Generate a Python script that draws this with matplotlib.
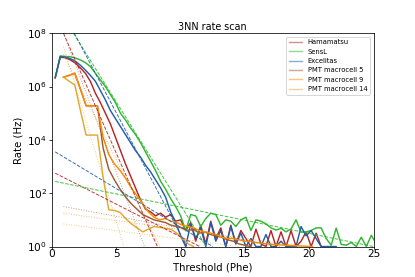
import numpy as np
import matplotlib
matplotlib.use("Agg")
import matplotlib.pyplot as plt

# threshold scan steps (Phe)
thr_sipm = np.arange(0.26, 25.3, 0.39)
thr_pmt = np.arange(0.90, 20.3, 0.44)

# log10(rate / Hz)
ham_log = [6.33, 7.10, 7.08, 7.00, 6.88, 6.70, 6.50, 6.20, 5.75, 5.40,
           5.00, 4.60, 4.10, 3.60, 3.10, 2.65, 2.20, 1.75, 1.40, 1.30,
           1.15, 1.25, 1.10, 1.20, 0.95, 1.00, 0.60, 0.90, 0.20, 0.80,
           0.10, 0.95, 0.30, 0.70, 0.00, 0.80, 0.10, 0.60, 0.30, 0.00,
           0.65, 0.10, 0.00, 0.60, 0.00, 0.55, 0.00, 0.60, 0.00, 0.20,
           0.55, 0.00, 0.50, 0.00]
sensl_log = [6.33, 7.15, 7.13, 7.12, 7.07, 7.00, 6.90, 6.75, 6.50, 6.25,
             6.00, 5.70, 5.40, 5.00, 4.75, 4.45, 4.20, 3.90, 3.55, 3.20,
             2.85, 2.45, 2.15, 1.80, 1.50, 1.15, 0.60, 1.20, 1.15, 0.75,
             1.05, 1.25, 1.20, 0.80, 1.00, 0.95, 0.75, 1.00, 1.10, 0.60,
             1.00, 0.95, 0.85, 0.70, 0.62, 0.68, 0.55, 0.66, 1.00, 0.54,
             0.55, 0.60, 0.70, 0.70, 0.30, 0.05, 0.69, 0.08, 0.05, 0.15,
             0.00, 0.35, 0.00, 0.42, 0.10]
exc_log = [6.33, 7.12, 7.10, 7.05, 6.95, 6.80, 6.62, 6.42, 6.20, 5.85,
           5.50, 5.10, 4.80, 4.50, 4.20, 3.90, 3.60, 3.35, 3.05, 2.80,
           2.50, 2.20, 1.85, 1.30, 0.90, 0.40, 0.00, 0.85, 0.30, 0.70,
           0.00, 0.90, 0.20, 0.60, 0.00, 0.75, 0.10, 0.50, 0.00, 0.30,
           0.00, 0.00, 0.45, 0.00, 0.00, 0.20, 0.00, 0.00, 0.00, 0.75,
           0.40, 0.60, 0.30, 0.00, 0.00, 0.00, 0.00]
pmt5_log = [6.35, 6.42, 6.50, 5.90, 5.28, 5.28, 5.28, 3.70, 2.90, 2.50,
            2.15, 1.85, 1.60, 1.40, 1.20, 1.10, 1.00, 0.95, 0.90, 0.80,
            0.75, 0.70, 0.60, 0.65, 0.50, 0.55, 0.45, 0.40, 0.35, 0.25,
            0.20, 0.10, 0.05, 0.00]
pmt9_log = [6.35, 6.42, 6.50, 5.90, 5.28, 5.28, 5.28, 4.10, 3.45, 3.10,
            2.85, 2.55, 2.20, 1.90, 1.60, 1.30, 1.10, 1.00, 1.05, 0.95,
            0.90, 0.80, 0.75, 0.70, 0.60, 0.55, 0.50, 0.45, 0.35, 0.30,
            0.30, 0.25, 0.20, 0.20, 0.15, 0.12, 0.10, 0.08, 0.06, 0.05,
            0.04, 0.03, 0.02, 0.01, 0.00]
pmt14_log = [6.35, 6.20, 6.06, 5.10, 4.18, 4.18, 4.18, 2.60, 1.38, 1.35,
             1.28, 1.05, 0.85, 0.70, 0.55, 0.65, 0.75, 0.72, 0.68, 0.65,
             0.50, 0.30, 0.10, 0.00]

names = ["Hamamatsu", "SensL", "Excelitas",
         "PMT macrocell 5", "PMT macrocell 9", "PMT macrocell 14"]
colors = ["#b52525", "#2db82d", "#1f5ea8", "#9a5a35", "#ff8c00", "#e0a830"]

# exponential fits, as two points (Phe, log10 rate) on each straight line
fit_steep = [[(0.9, 8.0), (8.2, 0.0)],
             [(1.68, 8.0), (12.0, 0.0)],
             [(1.74, 8.0), (10.5, 0.0)],
             [(0.9, 8.0), (7.2, 0.0)],
             [(0.9, 7.2), (8.4, 0.0)],
             [(0.9, 7.5), (5.6, 0.0)]]
fit_tail = [[(0.26, 2.75), (11.5, 0.0)],
            [(0.26, 2.44), (25.0, 0.0)],
            [(0.26, 3.55), (12.5, 0.0)],
            [(0.9, 1.50), (17.7, 0.0)],
            [(0.9, 1.25), (19.5, 0.0)],
            [(0.9, 0.85), (14.5, 0.0)]]

curves = [(thr_sipm, ham_log), (thr_sipm, sensl_log), (thr_sipm, exc_log),
          (thr_pmt, pmt5_log), (thr_pmt, pmt9_log), (thr_pmt, pmt14_log)]

fig = plt.figure(figsize=(6, 4.005), dpi=415 / 6)
ax = fig.add_subplot(111)

for i, (x, y) in enumerate(curves):
    ax.plot(x[:len(y)], 10 ** np.array(y), color=colors[i], lw=1.5, label=names[i])

for i in range(6):
    pmt = i >= 3
    for fit in (fit_steep[i], fit_tail[i]):
        fx = [p[0] for p in fit]
        fy = [10 ** p[1] for p in fit]
        ax.plot(fx, fy, color=colors[i], lw=1.0,
                ls=":" if pmt else "--", alpha=0.6 if pmt else 0.9)

ax.set_yscale("log")
ax.set_xlim(0, 25)
ax.set_ylim(1, 1e8)
ax.set_yticks([1, 1e2, 1e4, 1e6, 1e8])
ax.yaxis.set_minor_locator(matplotlib.ticker.NullLocator())
ax.set_xticks([0, 5, 10, 15, 20, 25])
ax.tick_params(labelsize=11)
ax.tick_params(axis="x", length=2, pad=1)
ax.tick_params(axis="y", length=3, pad=2)
ax.set_xlabel("Threshold (Phe)", fontsize=10.5, labelpad=3)
ax.set_ylabel("Rate (Hz)", fontsize=10.5)
ax.set_title("3NN rate scan", fontsize=10, pad=3)

leg = ax.legend(loc="upper right", fontsize=7)
for h in leg.get_lines():
    h.set_alpha(0.5)

plt.savefig("out.png")
